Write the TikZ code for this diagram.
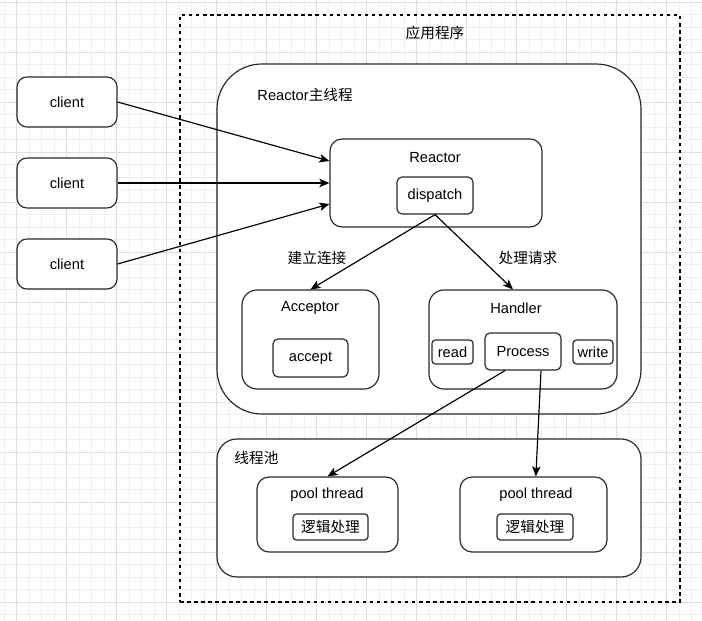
\documentclass[tikz,border=0pt]{standalone}
\usepackage{fontspec}
\setmainfont{Liberation Sans}
\newfontfamily\cjk{Noto Sans CJK SC}
\usetikzlibrary{arrows.meta}
\definecolor{gridmin}{RGB}{240,240,240}
\definecolor{gridmaj}{RGB}{222,222,222}
\definecolor{edge}{RGB}{40,40,40}

\begin{document}
\begin{tikzpicture}[x=0.03cm,y=-0.03cm,line width=1pt,
    font=\fontsize{12.5}{15}\selectfont,
    box/.style={draw=edge,fill=white,rounded corners=0.36cm,inner sep=0pt},
    inbox/.style={draw=edge,fill=white,rounded corners=0.15cm,inner sep=0pt},
    link/.style={-{Stealth[length=0.3cm,width=0.25cm,inset=0.07cm]}}]
  \useasboundingbox (0,0) rectangle (702,621);
  % grid
  \foreach \x in {4,16.5,...,702} \draw[gridmin,line width=0.6pt] (\x,0) -- (\x,621);
  \foreach \y in {2,14.5,...,621} \draw[gridmin,line width=0.6pt] (0,\y) -- (702,\y);
  \foreach \x in {16.5,66.5,...,702} \draw[gridmaj,line width=0.6pt] (\x,0) -- (\x,621);
  \foreach \y in {2,52,...,621} \draw[gridmaj,line width=0.6pt] (0,\y) -- (702,\y);

  % application
  \node[draw,dashed,minimum width=15cm,minimum height=17.61cm,inner sep=0pt] (app) at (430,308.5) {};
  \node (applabel) at (435,33) {\cjk 应用程序};

  % clients
  \node[box,minimum width=3cm,minimum height=1.5cm,rounded corners=0.3cm] (client1) at (67,102) {client};
  \node[box,minimum width=3cm,minimum height=1.5cm,rounded corners=0.3cm] (client2) at (67,183) {client};
  \node[box,minimum width=3cm,minimum height=1.5cm,rounded corners=0.3cm] (client3) at (67,264) {client};

  % reactor main thread
  \node[box,rounded corners=1.35cm,minimum width=12.72cm,minimum height=10.5cm] (main) at (429,239) {};
  \node[anchor=west] (mainlabel) at (253,95) {Reactor{\cjk 主线程}};
  \node[box,minimum width=6.36cm,minimum height=2.64cm] (reactor) at (436,183) {};
  \node (reactorlabel) at (435,158) {Reactor};
  \node[inbox,minimum width=2.28cm,minimum height=1.11cm] (dispatch) at (435,195.5) {dispatch};

  \node[box,rounded corners=0.45cm,minimum width=4.11cm,minimum height=2.97cm] (acceptor) at (310.5,339.5) {};
  \node (acceptorlabel) at (310,308) {Acceptor};
  \node[inbox,minimum width=2.25cm,minimum height=1.14cm] (accept) at (310.5,358) {accept};

  \node[box,rounded corners=0.45cm,minimum width=5.64cm,minimum height=2.97cm] (handler) at (523,339.5) {};
  \node (handlerlabel) at (516,308) {Handler};
  \node[inbox,rounded corners=0.1cm,minimum width=1.23cm,minimum height=0.72cm] (read) at (452.5,352) {read};
  \node[inbox,minimum width=2.28cm,minimum height=1.11cm] (process) at (523,351.5) {Process};
  \node[inbox,rounded corners=0.1cm,minimum width=1.2cm,minimum height=0.72cm] (write) at (593,352) {write};

  % thread pool
  \node[box,rounded corners=0.6cm,minimum width=12.72cm,minimum height=4.14cm] (pool) at (429,508) {};
  \node[anchor=west] (poollabel) at (230,458) {\cjk 线程池};
  \node[box,minimum width=4.23cm,minimum height=2.25cm] (thread1) at (327.5,514.5) {};
  \node (thread1label) at (327,495) {pool thread};
  \node[inbox,rounded corners=0.1cm,minimum width=2.25cm,minimum height=0.78cm] (logic1) at (330.5,527) {\cjk 逻辑处理};
  \node[box,minimum width=4.41cm,minimum height=2.25cm] (thread2) at (533.5,514.5) {};
  \node (thread2label) at (536,495) {pool thread};
  \node[inbox,rounded corners=0.1cm,minimum width=2.28cm,minimum height=0.78cm] (logic2) at (535,527) {\cjk 逻辑处理};

  % connectors
  \draw[link] (client1.east) -- ([yshift=0.66cm]reactor.west);
  \draw[link] (client2.east) -- (reactor.west);
  \draw[link] (client3.east) -- ([yshift=-0.63cm]reactor.west);
  \draw[link] (dispatch.south) -- (acceptor.north);
  \draw[link] (dispatch.south) -- ([xshift=-0.3cm]handler.north);
  \draw[link] ([xshift=-0.54cm]process.south) -- (thread1.north);
  \draw[link] ([xshift=0.54cm]process.south) -- ([xshift=0.07cm]thread2.north);
  \node (acceptlabel) at (317,258) {\cjk 建立连接};
  \node (handlelabel) at (528,258) {\cjk 处理请求};
\end{tikzpicture}
\end{document}
